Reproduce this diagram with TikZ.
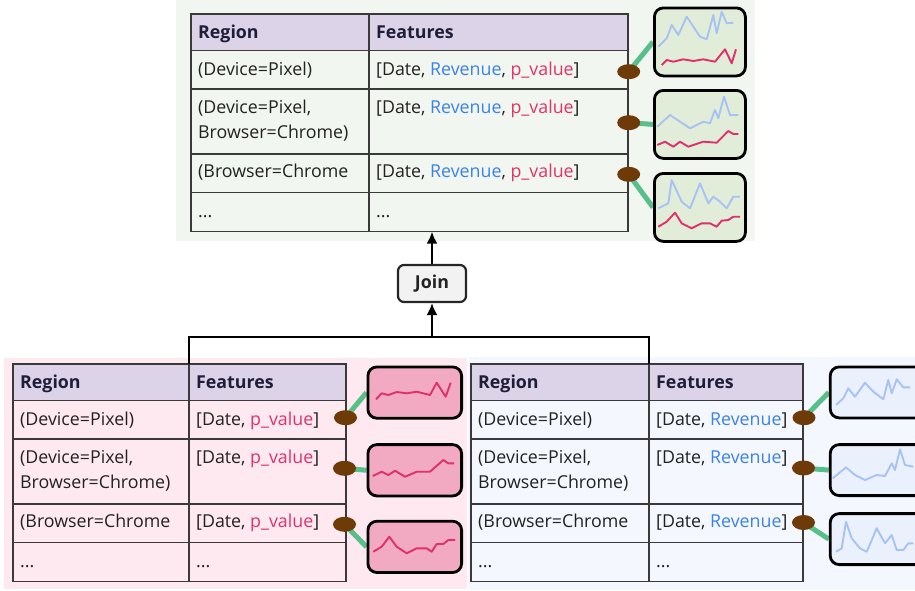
\documentclass[tikz,border=0pt]{standalone}
\usepackage{fontspec}
\setmainfont{Open Sans}
\usetikzlibrary{arrows.meta,shapes.geometric}
\pgfdeclarelayer{back}\pgfdeclarelayer{mid}
\pgfsetlayers{back,mid,main}
\definecolor{hdr}{HTML}{DCD3E8}
\definecolor{gridc}{HTML}{3A3A3A}
\definecolor{rev}{HTML}{3B82E6}
\definecolor{pv}{HTML}{E0326B}
\definecolor{bgT}{HTML}{F2F6F0}
\definecolor{bgL}{HTML}{FDE9EF}
\definecolor{bgR}{HTML}{F4F8FE}
\definecolor{chT}{HTML}{E2EDD9}
\definecolor{chL}{HTML}{F2A9C2}
\definecolor{chR}{HTML}{EAF1FC}
\definecolor{dotc}{HTML}{6E3A08}
\definecolor{cng}{HTML}{58BF8B}
\definecolor{spB}{HTML}{A6C3F3}
\definecolor{spR}{HTML}{E0306A}
\definecolor{joinf}{HTML}{F2F2F2}
\definecolor{txt}{HTML}{222222}
\definecolor{htxt}{HTML}{1E1E3A}
\tikzset{
  gridline/.style={draw=gridc, line width=1.4pt},
  tbl/.style={anchor=north west, inner sep=0pt, outer sep=0pt, draw=none},
  cell/.style={anchor=base west, inner sep=0pt, text=txt, font=\fontsize{17.8}{24}\selectfont},
  hcell/.style={anchor=base west, inner sep=0pt, text=htxt, font=\fontsize{17.8}{24}\selectfont\bfseries},
  chart/.style={anchor=north west, draw=black, line width=2.8pt, rounded corners=9pt, inner sep=0pt},
  dotn/.style={ellipse, fill=dotc, draw=none, minimum width=23pt, minimum height=15pt, inner sep=0pt},
  conn/.style={draw=cng, line width=5pt},
  spb/.style={draw=spB, line width=1.9pt, line join=round},
  spr/.style={draw=spR, line width=1.9pt, line join=round},
  arr/.style={draw=black, line width=2pt, -{Latex[length=12pt,width=11pt]}},
  wire/.style={draw=black, line width=2pt},
  joinbox/.style={draw=black!85, fill=joinf, line width=2.2pt, rounded corners=6pt, minimum width=68pt, minimum height=37pt, inner sep=0pt, font=\fontsize{17.8}{24}\selectfont\bfseries, text=txt}
}
\newcommand{\dtable}[6]{%
\begin{scope}[shift={(#2,#3)}]
\fill[hdr] (0,0) rectangle (#5,36.7);
\draw[gridline] (0,0) rectangle (#5,217.7);
\foreach \yy in {36.7,75,140,178.7}{\draw[gridline] (0,\yy) -- (#5,\yy);}
\draw[gridline] (#4,0) -- (#4,217.7);
\node[tbl, minimum width=#5pt, minimum height=217.7pt] (#1) at (0,0) {};
\coordinate (#1-s) at (#4,0);
\node[hcell] (#1-h1) at (7,24.3) {Region};
\node[hcell] (#1-h2) at ({#4+7},24.3) {Features};
\node[cell] (#1-a1) at (7,61) {(Device=Pixel)};
\node[cell] (#1-a2) at (7,99.5) {(Device=Pixel,};
\node[cell] (#1-a2b) at (7,124) {Browser=Chrome)};
\node[cell] (#1-a3) at (7,163) {(Browser=Chrome};
\node[cell] (#1-a4) at (7,203) {...};
\node[cell] (#1-b1) at ({#4+7},61) {#6};
\node[cell] (#1-b2) at ({#4+7},99.5) {#6};
\node[cell] (#1-b3) at ({#4+7},163) {#6};
\node[cell] (#1-b4) at ({#4+7},203) {...};
\end{scope}}
\begin{document}
\begin{tikzpicture}[x=1pt,y=-1pt]
\useasboundingbox (0,0) rectangle (915,590);
\clip (0,0) rectangle (915,590);
\begin{pgfonlayer}{back}
\fill[bgT] (176,0) rectangle (755,240.7);
\fill[bgL] (4,358) rectangle (467,589);
\fill[bgR] (468,357) rectangle (915,590);
\end{pgfonlayer}
% tables
\dtable{T}{191}{14}{178}{437}{[Date, \textcolor{rev}{Revenue}, \textcolor{pv}{p\_value}]}
\dtable{L}{13}{364}{176}{333}{[Date, \textcolor{pv}{p\_value}]}
\dtable{R}{471}{364}{178}{332}{[Date, \textcolor{rev}{Revenue}]}
% join
\node[joinbox] (join) at (432,283.5) {Join};
\coordinate (bus) at (432,336.7);
\draw[arr] (join.north) -- (join.north |- T.south);
\draw[wire] (L-s) |- (bus) -| (R-s);
\draw[arr] (bus) -- (join.south);
% chart boxes
\node[chart, fill=chT, minimum width=91pt, minimum height=68pt] (T-c1) at (653,6.5) {};
\node[chart, fill=chT, minimum width=91pt, minimum height=68pt] (T-c2) at (653,89) {};
\node[chart, fill=chT, minimum width=91pt, minimum height=68pt] (T-c3) at (653,172) {};
\node[chart, fill=chL, minimum width=93.7pt, minimum height=51.3pt] (L-c1) at (366.5,365.5) {};
\node[chart, fill=chL, minimum width=93.7pt, minimum height=51.3pt] (L-c2) at (366.5,443.2) {};
\node[chart, fill=chL, minimum width=93.7pt, minimum height=51.3pt] (L-c3) at (366.5,519.8) {};
\node[chart, fill=chR, minimum width=100pt, minimum height=51pt] (R-c1) at (828.8,365.5) {};
\node[chart, fill=chR, minimum width=100pt, minimum height=51pt] (R-c2) at (828.8,443.2) {};
\node[chart, fill=chR, minimum width=100pt, minimum height=51pt] (R-c3) at (828.8,512.2) {};
% dots
\node[dotn] (T-e1) at (628.7,71.7) {};
\node[dotn] (T-e2) at (628.7,122.7) {};
\node[dotn] (T-e3) at (628.7,174.3) {};
\node[dotn] (L-e1) at (345.5,417.7) {};
\node[dotn] (L-e2) at (344.5,468.3) {};
\node[dotn] (L-e3) at (344.5,524.3) {};
\node[dotn] (R-e1) at (804,417.7) {};
\node[dotn] (R-e2) at (803.5,468) {};
\node[dotn] (R-e3) at (803.5,522.5) {};
% connectors
\begin{pgfonlayer}{mid}
\foreach \p in {T,L,R}{\foreach \i in {1,2,3}{\draw[conn] (\p-e\i.center) -- (\p-c\i.west);}}
\end{pgfonlayer}
% sparklines top
\draw[spb] plot coordinates {(658.3,46.7) (666.7,38.3) (671.7,25) (678.3,35) (686.7,16.7) (700,36.7) (706.7,39.3) (713.3,15) (716.7,33.3) (721.7,11.7) (726.7,23.3) (733.3,22.7)};
\draw[spr] plot coordinates {(661.7,65) (666.7,60) (673.3,61.7) (683.3,59.3) (693.3,61) (703.3,59.3) (715,61.7) (725,49.3) (731.7,63.3) (736,49.3)};
\draw[spb] plot coordinates {(657.3,126.7) (670,115) (690,128.3) (703.3,121.7) (710,123.3) (715,110) (718.3,118.3) (724,96.7) (730,115) (738.3,115)};
\draw[spr] plot coordinates {(657.3,145) (665,141.7) (673.3,146.7) (680,141.7) (688.3,146.7) (703.3,141.7) (716.7,142.7) (728.3,131) (733.3,134) (738.3,134)};
\draw[spb] plot coordinates {(658.3,208.3) (668.3,203.3) (671.7,180) (681.7,201.7) (690,208.3) (700,183.3) (708.3,203.3) (713.3,196.7) (720,201.7) (726.7,208.3) (733.3,196.7) (740,196.7)};
\draw[spr] plot coordinates {(658.3,226.7) (666.7,221.7) (675,212.7) (681.7,223.3) (691.7,228.3) (701.7,223.3) (710,223.3) (716.7,226.7) (721.7,220.7) (728.3,220) (733.3,216.7) (740,216.7)};
% sparklines left
\draw[spr] plot coordinates {(376,399.3) (381.7,393.3) (388.3,395) (396.7,392) (406.7,393.3) (416.7,391.7) (430,395) (436.7,382.7) (445.7,396.7) (450.7,382.7)};
\draw[spr] plot coordinates {(372.7,476) (381.7,471.7) (388.3,475) (395,470.7) (405,476.7) (416.7,471.7) (430,471.7) (443.3,460) (448.3,463.3) (454,463.3)};
\draw[spr] plot coordinates {(373.3,551.7) (381.7,546.7) (389.3,536.7) (396.7,546.7) (406.7,553.3) (416.7,548.3) (426.7,548.3) (431.7,551.7) (436.7,544) (443.3,544) (448.3,540) (455,540)};
% sparklines right
\draw[spb] plot coordinates {(836,405) (843.3,398.3) (848.3,388.3) (855,396.7) (865,382.7) (873.3,391.7) (883.3,399.3) (888.3,380) (891.7,393.3) (896.7,379.3) (903.3,387.3) (910,387.3)};
\draw[spb] plot coordinates {(832.7,478.3) (846,467.3) (855,475) (865,480) (876.7,475) (885,476) (891.7,463.3) (895,470) (900,449.3) (905,465) (913.3,466.7)};
\draw[spb] plot coordinates {(836,551.7) (841.7,548.3) (846,521.7) (851.7,538.3) (860,548.3) (866.7,551.7) (876.7,528.3) (885,543.3) (891.7,535) (896.7,550) (903.3,550) (908.3,543.3) (913.3,543.3)};
\end{tikzpicture}
\end{document}
